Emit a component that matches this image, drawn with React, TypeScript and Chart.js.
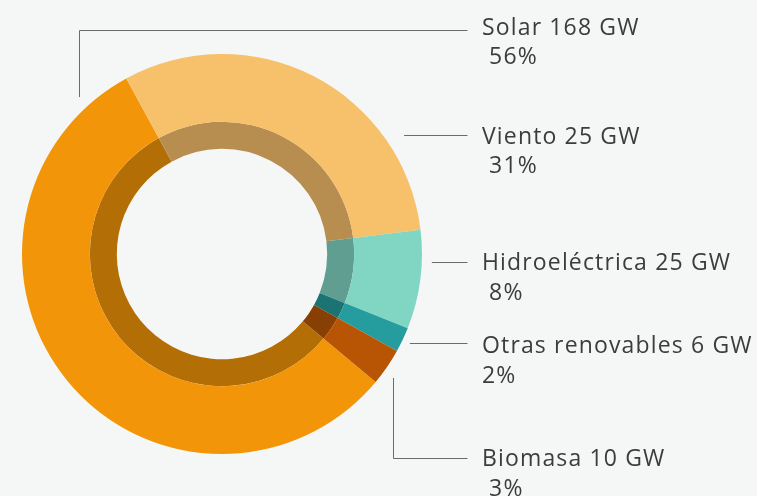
import React, { useEffect, useRef } from "react";
import { Chart, registerables } from "chart.js";

Chart.register(...registerables);

// ---- data ----
const categories = ["Solar", "Viento", "Hidroeléctrica", "Otras renovables", "Biomasa"];
const capacityGW = [168, 25, 25, 6, 10];
const sharePct = [56, 31, 8, 2, 3];
const pctPrefix = [" ", " ", " ", "", " "];

// ---- style ----
const sliceColors = ["#F39508", "#F7C06B", "#81D6C3", "#259C9D", "#B75504"];
const BG = "#F5F7F6";
const TEXT = "#3c3c3c";
const LINE = "#6b6b6b";
const FONT = "23px 'Open Sans', Lato, sans-serif";
const LETTER_SPACING = "1.15px";

function darken(hex: string, f: number): string {
  const n = parseInt(hex.slice(1), 16);
  const r = Math.round(((n >> 16) & 255) * f);
  const g = Math.round(((n >> 8) & 255) * f);
  const b = Math.round((n & 255) * f);
  return `rgb(${r},${g},${b})`;
}

// label layout relative to doughnut centre
const LABEL_DX = 260;
const LINE_END_DX = 245;
const labelBaseDY = [-219.5, -110.5, 16, 99, 212];
const LINE2_DY = 29.5;
const leaderDY = [-224.5, -119, 7.5, 89, 204];

const labelPlugin = {
  id: "leaderLabels",
  afterDraw(chart: any) {
    const meta = chart.getDatasetMeta(0);
    if (!meta.data.length) return;
    const p = meta.data[0].getProps(["x", "y", "outerRadius"], true);
    const cx = p.x, cy = p.y, r = p.outerRadius;
    const ctx = chart.ctx;
    ctx.save();
    ctx.strokeStyle = LINE;
    ctx.lineWidth = 1;
    const endX = Math.round(cx + LINE_END_DX) + 0.5;
    categories.forEach((_, i) => {
      const ly = Math.round(cy + leaderDY[i]) + 0.5;
      ctx.beginPath();
      if (i === 0) {
        const vx = Math.round(cx - 0.715 * r) + 0.5;
        ctx.moveTo(vx, cy - 0.785 * r);
        ctx.lineTo(vx, ly);
        ctx.lineTo(endX, ly);
      } else if (i === 4) {
        const vx = Math.round(cx + 0.857 * r) + 0.5;
        ctx.moveTo(vx, cy + 0.62 * r);
        ctx.lineTo(vx, ly);
        ctx.lineTo(endX, ly);
      } else {
        const gap = [0, 21, 10, 9, 0][i];
        const dy = ly - cy;
        const sx = cx + Math.sqrt(Math.max(0, r * r - dy * dy)) + gap;
        ctx.moveTo(sx, ly);
        ctx.lineTo(endX, ly);
      }
      ctx.stroke();
    });
    ctx.fillStyle = TEXT;
    ctx.font = FONT;
    try {
      (ctx as any).letterSpacing = LETTER_SPACING;
    } catch (e) {}
    ctx.textBaseline = "alphabetic";
    ctx.textAlign = "left";
    categories.forEach((c, i) => {
      const y = cy + labelBaseDY[i];
      ctx.fillText(`${c} ${capacityGW[i]} GW`, cx + LABEL_DX, y);
      ctx.fillText(`${pctPrefix[i]}${sharePct[i]}%`, cx + LABEL_DX, y + LINE2_DY);
    });
    ctx.restore();
  },
};

export default function App() {
  const ref = useRef<HTMLCanvasElement | null>(null);
  useEffect(() => {
    document.body.style.margin = "0";
    document.body.style.background = BG;
    const canvas = ref.current!;
    const chart = new Chart(canvas, {
      type: "doughnut",
      data: {
        labels: categories,
        datasets: [
          {
            data: sharePct,
            backgroundColor: sliceColors,
            borderWidth: 0,
            weight: 68,
          },
          {
            data: sharePct,
            backgroundColor: sliceColors.map((c) => darken(c, 0.74)),
            borderWidth: 0,
            weight: 27,
          },
        ],
      },
      options: {
        responsive: false,
        animation: false,
        devicePixelRatio: 1,
        rotation: 129.8,
        cutout: "52.6%",
        layout: { padding: { left: 22, right: 335, top: 54, bottom: 42 } },
        plugins: {
          legend: { display: false },
          tooltip: { enabled: false },
        },
      },
      plugins: [labelPlugin],
    });
    return () => chart.destroy();
  }, []);
  return (
    <div style={{ position: "absolute", left: 0, top: 0, width: 757, height: 496, background: BG }}>
      <canvas ref={ref} width={757} height={496} style={{ display: "block" }} />
    </div>
  );
}
